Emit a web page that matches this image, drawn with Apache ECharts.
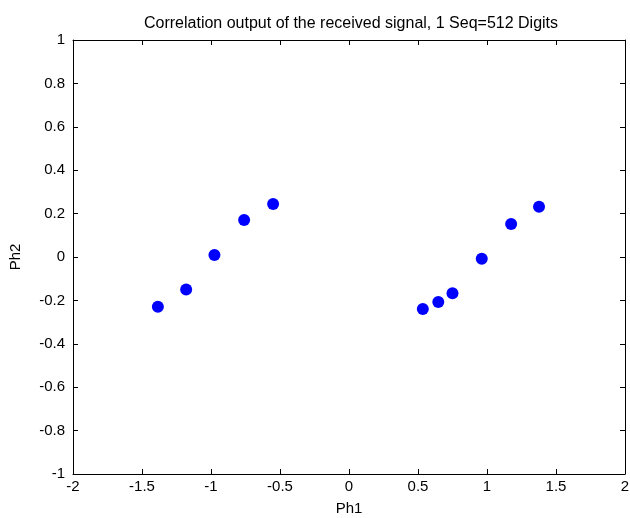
<!DOCTYPE html>
<html>
<head>
<meta charset="utf-8">
<script src="https://cdn.jsdelivr.net/npm/echarts@6/dist/echarts.min.js"></script>
<style>
  html, body { margin: 0; padding: 0; background: #fff; }
  #main { width: 630px; height: 518px; }
</style>
</head>
<body>
<div id="main"></div>
<script>
// values
var ph1 = [-1.385, -1.18, -0.975, -0.76, -0.55, 0.535, 0.647, 0.75, 0.962, 1.175, 1.377];
var ph2 = [-0.229, -0.15, 0.009, 0.17, 0.244, -0.24, -0.207, -0.167, -0.008, 0.152, 0.232];
var titleText = 'Correlation output of the received signal, 1 Seq=512 Digits';

var points = [];
for (var i = 0; i < ph1.length; i++) {
  points.push([ph1[i], ph2[i]]);
}

var font = 'Liberation Sans, Arial, sans-serif';
var lineStyle = { color: '#000', width: 1 };

var myChart = echarts.init(document.getElementById('main'));
var option = {
  animation: false,
  title: {
    text: titleText,
    left: 139,
    top: 11,
    textStyle: { fontFamily: font, fontSize: 16, fontWeight: 'normal', color: '#000' }
  },
  grid: { left: 73, right: 5, top: 40, bottom: 44, outerBoundsMode: 'none' },
  xAxis: [
    {
      type: 'value', min: -2, max: 2, interval: 0.5,
      name: 'Ph1', nameLocation: 'middle', nameGap: 27,
      nameTextStyle: { fontFamily: font, fontSize: 15, color: '#000' },
      axisLine: { onZero: false, lineStyle: lineStyle },
      axisTick: { inside: true, length: 5, lineStyle: lineStyle },
      axisLabel: { fontFamily: font, fontSize: 15, color: '#000', margin: 5 },
      splitLine: { show: false }
    },
    {
      type: 'value', min: -2, max: 2, interval: 0.5, position: 'top',
      axisLine: { onZero: false, lineStyle: lineStyle },
      axisTick: { inside: true, length: 5, lineStyle: lineStyle },
      axisLabel: { show: false },
      splitLine: { show: false }
    }
  ],
  yAxis: [
    {
      type: 'value', min: -1, max: 1, interval: 0.2,
      name: 'Ph2', nameLocation: 'middle', nameGap: 50, nameRotate: 90,
      nameTextStyle: { fontFamily: font, fontSize: 15, color: '#000' },
      axisLine: { onZero: false, lineStyle: lineStyle },
      axisTick: { inside: true, length: 5, lineStyle: lineStyle },
      axisLabel: {
        fontFamily: font, fontSize: 15, color: '#000', margin: 8,
        formatter: function (v) { return +v.toFixed(1) + ''; }
      },
      splitLine: { show: false }
    },
    {
      type: 'value', min: -1, max: 1, interval: 0.2, position: 'right',
      axisLine: { onZero: false, lineStyle: lineStyle },
      axisTick: { inside: true, length: 5, lineStyle: lineStyle },
      axisLabel: { show: false },
      splitLine: { show: false }
    }
  ],
  series: [
    {
      type: 'scatter',
      data: points,
      symbol: 'circle',
      symbolSize: 12,
      itemStyle: { color: '#0000ff', opacity: 1 }
    }
  ]
};
myChart.setOption(option);
</script>
</body>
</html>
